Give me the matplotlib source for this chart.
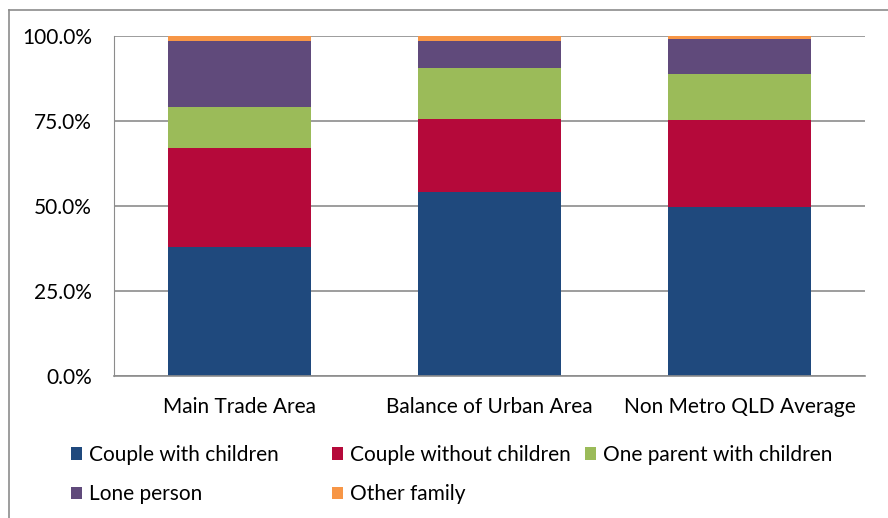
import numpy as np
import matplotlib.pyplot as plt
from matplotlib.patches import Patch
from matplotlib.lines import Line2D
from matplotlib.ticker import FuncFormatter

plt.rcParams['font.family'] = ['Lato', 'DejaVu Sans']

# data (share of households, %)
areas = ["Main Trade Area", "Balance of Urban Area", "Non Metro QLD Average"]
series = ["Couple with children", "Couple without children", "One parent with children",
          "Lone person", "Other family"]
couple_children = [37.9, 54.2, 49.6]
couple_no_children = [29.2, 21.5, 25.8]
one_parent = [12.1, 14.9, 13.5]
lone_person = [19.4, 8.0, 10.1]
other_family = [1.4, 1.4, 1.0]
colors = ["#1F497D", "#B5093A", "#9BBB59", "#604A7B", "#F79646"]

values = [couple_children, couple_no_children, one_parent, lone_person, other_family]

fig = plt.figure(figsize=(8.88, 5.18), dpi=100)
ax = fig.add_axes([114 / 888, 1 - 376 / 518, 751 / 888, 340 / 518])

x = np.arange(len(areas))
bottom = np.zeros(len(areas))
for vals, col, name in zip(values, colors, series):
    ax.bar(x, vals, width=0.57, bottom=bottom, color=col, label=name, zorder=2)
    bottom += np.array(vals)

ax.set_xlim(-0.5, len(areas) - 0.5)
ax.set_ylim(0, 100)
ax.set_yticks([0, 25, 50, 75, 100])
ax.yaxis.set_major_formatter(FuncFormatter(lambda v, p: f"{v:.1f}%"))
ax.set_xticks(x)
ax.set_xticklabels(areas)
ax.tick_params(axis='y', length=0, pad=16, labelsize=15)
ax.tick_params(axis='x', length=0, pad=15, labelsize=15)
ax.grid(axis='y', color="#8C8C8C", linewidth=1.2, zorder=0)
ax.set_axisbelow(True)
for s in ["top", "right"]:
    ax.spines[s].set_visible(False)
ax.spines["left"].set_color("#8C8C8C")
ax.spines["bottom"].set_color("#8C8C8C")
ax.spines["bottom"].set_linewidth(1.2)

# legend, laid out in three columns like Excel
handles = [Patch(facecolor=c, edgecolor="none") for c in colors]
col_x = [71 / 888, 332 / 888, 585 / 888]
for c in range(3):
    hs = handles[c::3]
    ls = series[c::3]
    fig.legend(hs, ls, loc="upper left", bbox_to_anchor=(col_x[c], 1 - 445 / 518),
               frameon=False, fontsize=15, handlelength=0.55, handleheight=0.55,
               handletextpad=0.3, labelspacing=0.92, borderpad=0, borderaxespad=0)

# chart border (cropped on right and bottom)
fig.add_artist(Line2D([9 / 888, 9 / 888], [0, 1 - 10 / 518], transform=fig.transFigure,
                      color="#8C8C8C", linewidth=1.2))
fig.add_artist(Line2D([9 / 888, 1], [1 - 10 / 518, 1 - 10 / 518], transform=fig.transFigure,
                      color="#8C8C8C", linewidth=1.2))

fig.savefig("out.png", dpi=100)
